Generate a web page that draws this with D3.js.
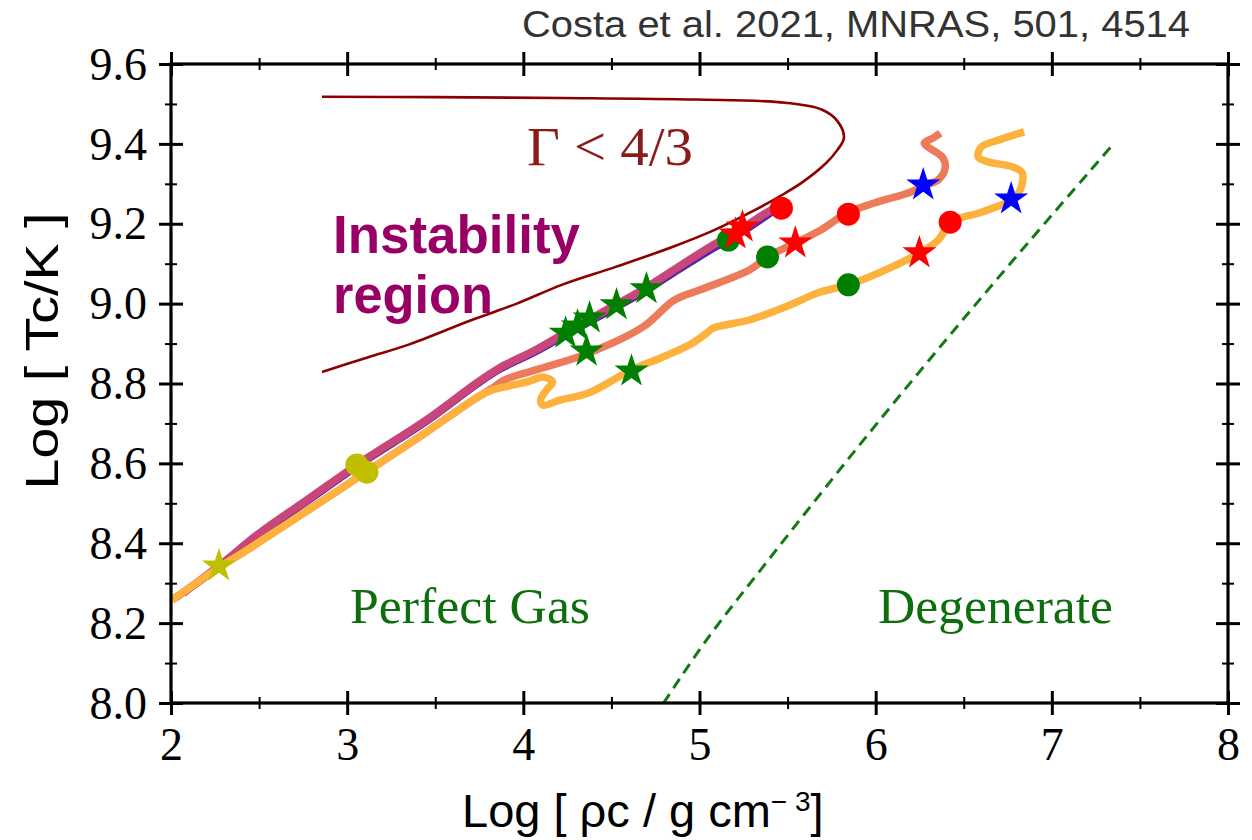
<!DOCTYPE html>
<html>
<head>
<meta charset="utf-8">
<script src="https://cdn.jsdelivr.net/npm/d3@7"></script>
<style>
  body { margin: 0; background: #fff; }
  svg { display: block; }
</style>
</head>
<body>
<svg id="chart" width="1252" height="840"></svg>
<script>
// ---- axis ticks ----
const xMajor = [2, 3, 4, 5, 6, 7, 8];
const xMinor = [2.5, 3.5, 4.5, 5.5, 6.5, 7.5];
const yMajor = [8.0, 8.2, 8.4, 8.6, 8.8, 9.0, 9.2, 9.4, 9.6];
const yMinor = [8.1, 8.3, 8.5, 8.7, 8.9, 9.1, 9.3, 9.5];
const xTickLabels = ["2", "3", "4", "5", "6", "7", "8"];
const yTickLabels = ["8.0", "8.2", "8.4", "8.6", "8.8", "9.0", "9.2", "9.4", "9.6"];

// ---- Gamma < 4/3 boundary (log rho, log T) ----
const gammaBoundary = [
  [2.857, 9.518], [3.5, 9.517], [4.218, 9.515], [4.981, 9.511], [5.488, 9.503],
  [5.693, 9.486], [5.783, 9.457], [5.820, 9.415], [5.783, 9.385], [5.719, 9.352],
  [5.591, 9.306], [5.488, 9.277], [5.313, 9.234], [5.083, 9.184], [4.853, 9.143],
  [4.524, 9.092], [4.218, 9.047], [3.963, 9.000], [3.707, 8.959], [3.353, 8.898],
  [3.120, 8.866], [2.857, 8.829]
];

// ---- central evolution tracks ----
const trackPurple = [
  [2.03, 8.264], [2.278, 8.341], [2.505, 8.422], [2.788, 8.509], [3.072, 8.597],
  [3.452, 8.705], [3.735, 8.797], [3.866, 8.835], [4.070, 8.879], [4.268, 8.928],
  [4.472, 8.977], [4.677, 9.027], [4.881, 9.084], [5.079, 9.138], [5.204, 9.168],
  [5.386, 9.221], [5.44, 9.238]
];
const trackMagenta = [
  [2.068, 8.275], [2.278, 8.345], [2.505, 8.426], [2.788, 8.513], [3.072, 8.601],
  [3.452, 8.709], [3.735, 8.801], [3.866, 8.839], [4.070, 8.884], [4.268, 8.934],
  [4.472, 8.984], [4.677, 9.034], [4.881, 9.092], [5.079, 9.147], [5.204, 9.177],
  [5.386, 9.229], [5.454, 9.244]
];
const trackSalmon = [
  [2.006, 8.258], [2.278, 8.341], [2.431, 8.383], [2.692, 8.458], [3.072, 8.568],
  [3.452, 8.679], [3.639, 8.736], [3.752, 8.769], [3.826, 8.789], [3.894, 8.809],
  [4.070, 8.834], [4.370, 8.876], [4.677, 8.941], [4.858, 9.009], [5.000, 9.034],
  [5.283, 9.084], [5.386, 9.117], [5.544, 9.152], [5.686, 9.184], [5.839, 9.227],
  [5.992, 9.252], [6.196, 9.279], [6.270, 9.295], [6.355, 9.310], [6.395, 9.342],
  [6.378, 9.367], [6.298, 9.392], [6.276, 9.402], [6.327, 9.415], [6.367, 9.427]
];
const trackOrange = [
  [2.006, 8.258], [2.278, 8.341], [2.431, 8.383], [2.692, 8.458], [3.072, 8.568],
  [3.452, 8.679], [3.639, 8.736], [3.752, 8.769], [3.826, 8.784], [3.922, 8.794],
  [4.036, 8.806], [4.110, 8.816], [4.166, 8.804], [4.132, 8.784], [4.098, 8.759],
  [4.110, 8.746], [4.212, 8.759], [4.370, 8.776], [4.614, 8.834], [4.779, 8.864],
  [4.960, 8.901], [5.040, 8.926], [5.079, 8.939], [5.283, 8.959], [5.488, 8.992],
  [5.686, 9.029], [5.845, 9.047], [6.094, 9.092], [6.248, 9.127], [6.355, 9.159],
  [6.429, 9.204], [6.599, 9.229], [6.769, 9.259], [6.820, 9.284], [6.832, 9.327],
  [6.781, 9.342], [6.639, 9.355], [6.582, 9.367], [6.599, 9.392], [6.701, 9.410],
  [6.843, 9.430]
];

// ---- degeneracy boundary ----
const degeneracyLine = [
  [4.796, 8.000], [5.040, 8.158], [5.391, 8.358], [5.839, 8.608],
  [6.304, 8.859], [6.781, 9.109], [7.354, 9.402]
];

// ---- markers on the tracks ----
const oliveCircles = [[3.055, 8.596], [3.112, 8.578]];
const oliveStars = [[2.272, 8.343]];
const greenCircles = [[5.164, 9.159], [5.386, 9.117], [5.845, 9.047]];
const greenStars = [
  [4.240, 8.926], [4.308, 8.944], [4.376, 8.964], [4.529, 8.997],
  [4.699, 9.037], [4.359, 8.881], [4.614, 8.831]
];
const redCircles = [[5.465, 9.239], [5.845, 9.224], [6.423, 9.204]];
const redStars = [[5.204, 9.174], [5.244, 9.192], [5.544, 9.152], [6.248, 9.127]];
const blueStars = [[6.270, 9.297], [6.769, 9.262]];

// ---- drawing ----
const svg = d3.select("#chart");
const x = d3.scaleLinear().domain([2, 8]).range([171, 1228]);
const y = d3.scaleLinear().domain([8.0, 9.6]).range([703, 64]);

svg.append("defs").append("clipPath").attr("id", "plotClip")
  .append("rect")
  .attr("x", x(2)).attr("y", y(9.6))
  .attr("width", x(8) - x(2)).attr("height", y(8.0) - y(9.6));

const plot = svg.append("g").attr("clip-path", "url(#plotClip)");

const smooth = d3.line().x(d => x(d[0])).y(d => y(d[1])).curve(d3.curveCatmullRom.alpha(0.5));

plot.append("path").datum(gammaBoundary)
  .attr("d", smooth).attr("fill", "none")
  .attr("stroke", "#8b0000").attr("stroke-width", 2.6);

plot.append("path").datum(degeneracyLine)
  .attr("d", smooth).attr("fill", "none")
  .attr("stroke", "#137a13").attr("stroke-width", 3)
  .attr("stroke-dasharray", "11,7");

const tracks = [
  { data: trackPurple, color: "#5b23a6", width: 7 },
  { data: trackMagenta, color: "#c8467a", width: 8 },
  { data: trackSalmon, color: "#eb7b59", width: 7.5 },
  { data: trackOrange, color: "#fcb23c", width: 7.5 }
];
tracks.forEach(t => {
  plot.append("path").datum(t.data)
    .attr("d", smooth).attr("fill", "none")
    .attr("stroke", t.color).attr("stroke-width", t.width)
    .attr("stroke-linecap", "butt").attr("stroke-linejoin", "round");
});

function drawCircles(data, color, r) {
  svg.append("g").selectAll("circle").data(data).join("circle")
    .attr("cx", d => x(d[0])).attr("cy", d => y(d[1]))
    .attr("r", r).attr("fill", color);
}
const starPath = d3.symbol().type(d3.symbolStar).size(360);
function drawStars(data, color) {
  svg.append("g").selectAll("path").data(data).join("path")
    .attr("d", starPath)
    .attr("transform", d => `translate(${x(d[0])},${y(d[1])})`)
    .attr("fill", color);
}
drawCircles(oliveCircles, "#bfbf00", 11.5);
drawCircles(greenCircles, "#008000", 11.5);
drawStars(oliveStars, "#bfbf00");
drawStars(greenStars, "#008000");
drawStars(redStars, "#ff0000");
drawCircles(redCircles, "#ff0000", 11.5);
drawStars(blueStars, "#0000ff");

// ---- frame and crossing ticks ----
function crossTicks(g, width) {
  g.select(".domain").remove();
  g.selectAll(".tick line").attr("stroke", "#000").attr("stroke-width", width);
  return g;
}
const serif = "'Liberation Serif', 'Times New Roman', serif";

// bottom
const gb = svg.append("g").attr("transform", `translate(0,${y(8.0)})`)
  .call(d3.axisBottom(x).tickValues(xMajor).tickSize(12).tickFormat((d, i) => xTickLabels[i]));
crossTicks(gb, 3);
gb.selectAll(".tick line").attr("y1", -12).attr("y2", 12);
gb.selectAll(".tick text").attr("y", 57).attr("dy", 0)
  .attr("font-family", serif).attr("font-size", 46).attr("fill", "#000");
const gbm = svg.append("g").attr("transform", `translate(0,${y(8.0)})`)
  .call(d3.axisBottom(x).tickValues(xMinor).tickSize(6).tickFormat(""));
crossTicks(gbm, 2);
gbm.selectAll(".tick line").attr("y1", -6).attr("y2", 6);

// top
const gt = svg.append("g").attr("transform", `translate(0,${y(9.6)})`)
  .call(d3.axisTop(x).tickValues(xMajor).tickSize(12).tickFormat(""));
crossTicks(gt, 3);
gt.selectAll(".tick line").attr("y1", -12).attr("y2", 12);
const gtm = svg.append("g").attr("transform", `translate(0,${y(9.6)})`)
  .call(d3.axisTop(x).tickValues(xMinor).tickSize(6).tickFormat(""));
crossTicks(gtm, 2);
gtm.selectAll(".tick line").attr("y1", -6).attr("y2", 6);

// left
const gl = svg.append("g").attr("transform", `translate(${x(2)},0)`)
  .call(d3.axisLeft(y).tickValues(yMajor).tickSize(12).tickFormat((d, i) => yTickLabels[i]));
crossTicks(gl, 3);
gl.selectAll(".tick line").attr("x1", -12).attr("x2", 12);
gl.selectAll(".tick text").attr("x", -24).attr("dy", "0.33em")
  .attr("font-family", serif).attr("font-size", 46).attr("fill", "#000");
const glm = svg.append("g").attr("transform", `translate(${x(2)},0)`)
  .call(d3.axisLeft(y).tickValues(yMinor).tickSize(6).tickFormat(""));
crossTicks(glm, 2);
glm.selectAll(".tick line").attr("x1", -6).attr("x2", 6);

// right
const gr = svg.append("g").attr("transform", `translate(${x(8)},0)`)
  .call(d3.axisRight(y).tickValues(yMajor).tickSize(12).tickFormat(""));
crossTicks(gr, 3);
gr.selectAll(".tick line").attr("x1", -12).attr("x2", 12);
const grm = svg.append("g").attr("transform", `translate(${x(8)},0)`)
  .call(d3.axisRight(y).tickValues(yMinor).tickSize(6).tickFormat(""));
crossTicks(grm, 2);
grm.selectAll(".tick line").attr("x1", -6).attr("x2", 6);

svg.append("rect")
  .attr("x", x(2)).attr("y", y(9.6))
  .attr("width", x(8) - x(2)).attr("height", y(8.0) - y(9.6))
  .attr("fill", "none").attr("stroke", "#000").attr("stroke-width", 3.2);

// ---- text ----
const narrow = "'Liberation Sans Narrow', 'Liberation Sans', Arial, sans-serif";

svg.append("text")
  .attr("x", 522).attr("y", 37)
  .attr("font-family", narrow).attr("font-size", 37).attr("fill", "#333")
  .attr("textLength", 668).attr("lengthAdjust", "spacingAndGlyphs")
  .text("Costa et al. 2021, MNRAS, 501, 4514");

svg.append("text")
  .attr("transform", "translate(58,351) rotate(-90)")
  .attr("text-anchor", "middle")
  .attr("font-family", narrow).attr("font-size", 46).attr("fill", "#000")
  .attr("textLength", 277).attr("lengthAdjust", "spacingAndGlyphs")
  .text("Log [ Tc/K ]");

const xl = svg.append("text")
  .attr("x", 462).attr("y", 827)
  .attr("font-family", narrow).attr("font-size", 47).attr("fill", "#000");
xl.append("tspan").text("Log [ \u03c1c / g cm");
xl.append("tspan").attr("dy", -16).attr("font-size", 28).text("\u2212 3");
xl.append("tspan").attr("dy", 16).text("]");

svg.append("text")
  .attr("x", 333).attr("y", 253)
  .attr("font-family", "'Liberation Sans', Arial, sans-serif").attr("font-weight", "bold")
  .attr("font-size", 54).attr("fill", "#990066")
  .attr("textLength", 247).attr("lengthAdjust", "spacingAndGlyphs")
  .text("Instability");
svg.append("text")
  .attr("x", 333).attr("y", 313)
  .attr("font-family", "'Liberation Sans', Arial, sans-serif").attr("font-weight", "bold")
  .attr("font-size", 54).attr("fill", "#990066")
  .attr("textLength", 160).attr("lengthAdjust", "spacingAndGlyphs")
  .text("region");

svg.append("text")
  .attr("x", 527).attr("y", 165)
  .attr("font-family", serif).attr("font-size", 54).attr("fill", "#8b1a1a")
  .attr("textLength", 166).attr("lengthAdjust", "spacingAndGlyphs")
  .text("\u0393 < 4/3");

svg.append("text")
  .attr("x", 350).attr("y", 623)
  .attr("font-family", serif).attr("font-size", 50).attr("fill", "#0d6e0d")
  .attr("textLength", 240).attr("lengthAdjust", "spacingAndGlyphs")
  .text("Perfect Gas");
svg.append("text")
  .attr("x", 878).attr("y", 623)
  .attr("font-family", serif).attr("font-size", 50).attr("fill", "#0d6e0d")
  .attr("textLength", 235).attr("lengthAdjust", "spacingAndGlyphs")
  .text("Degenerate");
</script>
</body>
</html>
